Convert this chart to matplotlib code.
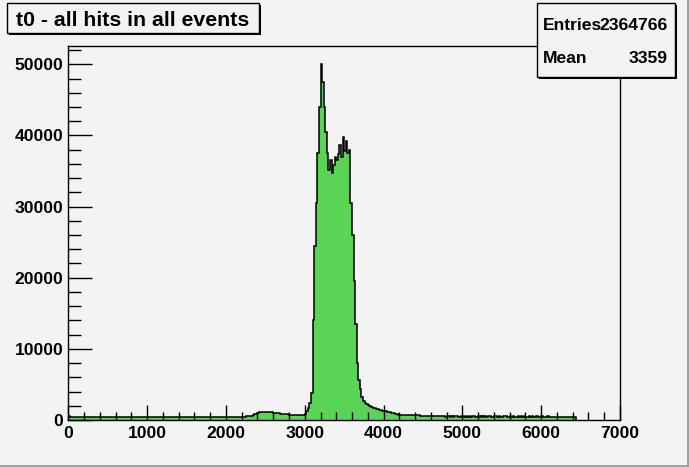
import numpy as np
import matplotlib
matplotlib.use('Agg')
from matplotlib import pyplot as plt
from matplotlib.patches import Rectangle

# Histogram t0: bins of 20 from 0
bin_width = 20

left_tail = [500, 470, 455, 460, 450, 465, 445, 455, 460, 450,
             455, 440, 460, 450, 445, 455, 465, 450, 440, 455,
             450, 460, 445, 450, 455, 440, 450, 460, 455, 445,
             450, 455, 440, 450, 460, 445, 455, 450, 440, 455,
             460, 450, 445, 455, 440, 450, 455, 460, 445, 450,
             440, 455, 450, 445, 460, 450, 440, 455, 450, 445,
             455, 450, 440, 460, 450, 445, 455, 440, 450, 455,
             445, 450, 460, 440, 455, 450, 445, 450, 455, 440,
             450, 460, 445, 455, 450, 440, 455, 450, 460, 445,
             450, 455, 440, 450, 445, 460, 450, 455, 440, 450,
             455, 445, 460, 450, 455, 465, 470, 460, 475, 480,
             470, 485, 490, 500, 510]

bump = [540, 600, 680, 780, 900, 1000, 1080, 1150, 1170, 1120,
        1100, 1110, 1080, 1070, 1060, 1040, 1000, 970, 940, 910,
        880, 850, 830, 800, 790, 770, 750, 740, 730, 720,
        710, 700, 710, 720, 760]

peak = [900, 1200, 1700, 2400, 3800, 14000, 24500, 30500, 37500, 44000,
        50000, 47500, 44000, 40500, 37500, 35200, 36500, 34700, 35900, 36900,
        36500, 37400, 38600, 37000, 39800, 37800, 39200, 37600, 38000, 30500,
        26000, 19500, 13500, 8000, 5600, 4300, 3200, 2700, 2450, 2250,
        2050, 1900, 1800, 1700, 1620, 1550, 1480, 1440, 1400, 1330]

shoulder = [1250, 1200, 1170, 1120, 1090, 1040, 960, 880, 800, 760,
            730, 710, 700, 690, 690, 680, 670, 680, 660, 660,
            650, 640, 650, 630, 620, 610, 600, 590, 580, 570]

right_tail = [560, 540, 530, 520, 510, 500, 505, 495, 500, 490,
              500, 495, 485, 500, 490, 495, 500, 485, 490, 500,
              495, 490, 500, 485, 495, 490, 500, 495, 485, 490,
              500, 490, 495, 485, 500, 490, 495, 500, 490, 485,
              495, 500, 490, 495, 485, 490, 500, 495, 490, 485,
              495, 490, 500, 485, 490, 495, 490, 500, 485, 495,
              490, 485, 495, 490, 500, 490, 485, 495, 490, 485,
              495, 490, 485, 490, 495, 480, 490, 485, 490, 480,
              485, 490, 480, 485, 490, 480, 485, 480, 490, 480,
              470, 460]

titulo = 't0 - all hits in all events'
stat_names = ['Entries', 'Mean']
stat_values = ['2364766', '3359']
x_ticks = [0, 1000, 2000, 3000, 4000, 5000, 6000, 7000]
y_ticks = [0, 10000, 20000, 30000, 40000, 50000]

counts = np.concatenate([left_tail, bump, peak, shoulder, right_tail])
edges = np.arange(len(counts) + 1) * bin_width

W, H = 689, 467
fondo = '#f3f3f3'
verde = '#59d454'

plt.rcParams['font.family'] = ['Liberation Sans', 'DejaVu Sans']
plt.rcParams['font.weight'] = 'bold'

fig = plt.figure(figsize=(W / 100, H / 100), dpi=100, facecolor=fondo)

def fx(px):
    return px / W

def fy(py):
    return 1 - py / H

ax = fig.add_axes([fx(68.3), fy(420), fx(620) - fx(68.3), fy(46) - fy(420)])
ax.set_facecolor(fondo)
ax.stairs(counts, edges, fill=True, color=verde, baseline=0)
ax.stairs(counts, edges, color='black', lw=1.1, baseline=0)

ax.set_xlim(0, 7000)
ax.set_ylim(0, 52570)
ax.set_xticks(x_ticks)
ax.set_yticks(y_ticks)
ax.set_xticklabels([str(v) for v in x_ticks])
ax.set_yticklabels([str(v) for v in y_ticks])
ax.set_xticks(np.arange(0, 7001, 200), minor=True)
ax.set_yticks(np.arange(0, 52001, 2000), minor=True)
ax.tick_params(axis='x', which='major', direction='in', length=11, width=1, pad=4, labelsize=12.6)
ax.tick_params(axis='x', which='minor', direction='in', length=5.5, width=1)
ax.tick_params(axis='y', which='major', direction='in', length=17, width=1, pad=3.5, labelsize=12.6)
ax.tick_params(axis='y', which='minor', direction='in', length=9, width=1)
for s in ax.spines.values():
    s.set_linewidth(1)
for lab in ax.get_xticklabels() + ax.get_yticklabels():
    lab.set_fontweight('bold')

def caja(x0, y0, x1, y1):
    # sombra a la derecha y abajo
    fig.patches.append(Rectangle((fx(x0 + 2), fy(y1 + 2)), fx(x1 - x0), fy(y0) - fy(y1),
                                 transform=fig.transFigure, facecolor='black', edgecolor='none'))
    fig.patches.append(Rectangle((fx(x0), fy(y1)), fx(x1 - x0), fy(y0) - fy(y1),
                                 transform=fig.transFigure, facecolor=fondo, edgecolor='black', lw=1))

caja(7, 3, 259, 33)
fig.text(fx(16.5), fy(26.5), titulo, fontsize=15.3, fontweight='bold', va='baseline', ha='left')

caja(537, 3, 675, 77)
for i, (n, v) in enumerate(zip(stat_names, stat_values)):
    yb = 30 + 33 * i
    fig.text(fx(543), fy(yb), n, fontsize=12.6, fontweight='bold', va='baseline', ha='left')
    fig.text(fx(668), fy(yb), v, fontsize=12.6, fontweight='bold', va='baseline', ha='right')

# borde del canvas
fig.patches.append(Rectangle((fx(686.5), 0), fx(2.5), 1, transform=fig.transFigure,
                             facecolor='#a0a0a0', edgecolor='none'))
fig.patches.append(Rectangle((0, 0), 1, 1 - fy(2.5), transform=fig.transFigure,
                             facecolor='#a0a0a0', edgecolor='none'))

fig.savefig('out.png', dpi=100, facecolor=fondo)
